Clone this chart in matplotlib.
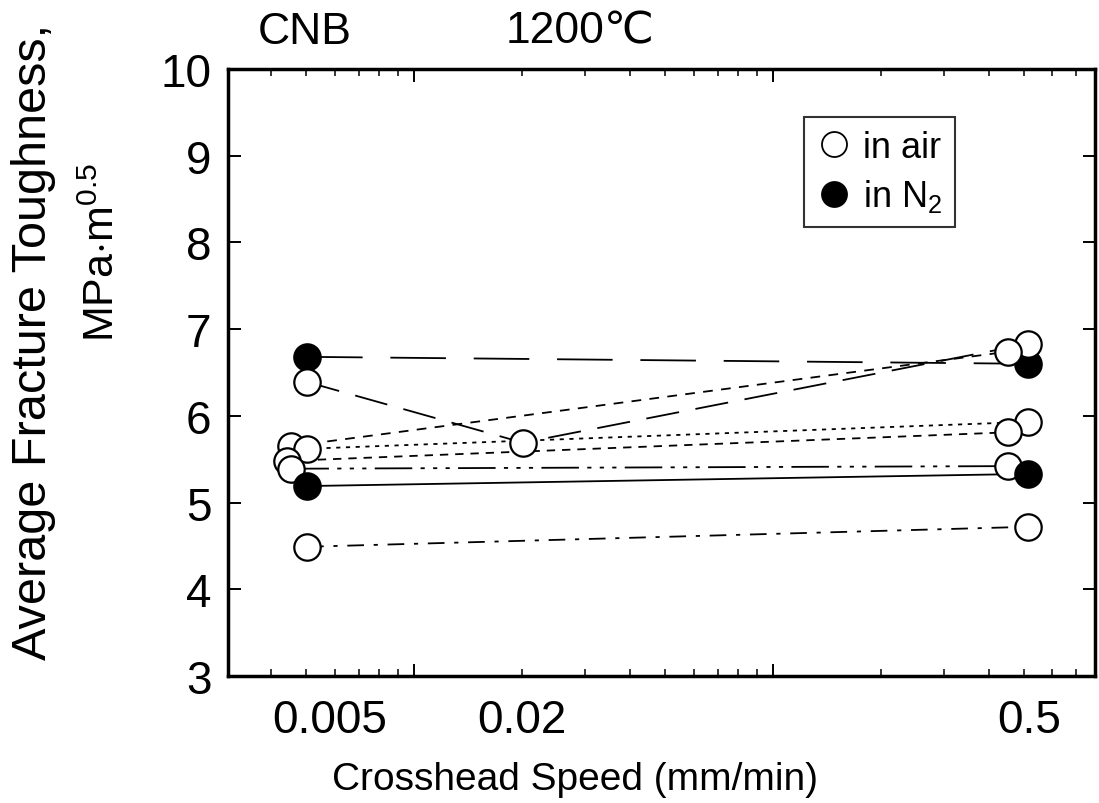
import matplotlib
matplotlib.use('Agg')
import matplotlib.pyplot as plt
from matplotlib.lines import Line2D
from matplotlib.ticker import LogLocator, NullFormatter, NullLocator

plt.rcParams['font.family'] = ['Liberation Sans', 'DejaVu Sans']
plt.rcParams['mathtext.fontset'] = 'custom'
plt.rcParams['mathtext.rm'] = 'Liberation Sans'
plt.rcParams['mathtext.it'] = 'Liberation Sans'
plt.rcParams['lines.scale_dashes'] = False

# crosshead speed (mm/min) vs average fracture toughness
# points at ~0.005 and ~0.5 are slightly staggered in the original
n2_hi_x = [0.00503, 0.513]
n2_hi_y = [6.68, 6.60]
n2_lo_x = [0.00503, 0.513]
n2_lo_y = [5.19, 5.33]

air_a_x = [0.00503, 0.0201, 0.513]
air_a_y = [6.39, 5.69, 6.83]
air_b_x = [0.00455, 0.452]
air_b_y = [5.65, 6.74]
air_c_x = [0.00503, 0.513]
air_c_y = [5.62, 5.93]
air_d_x = [0.00443, 0.452]
air_d_y = [5.48, 5.81]
air_e_x = [0.00455, 0.452]
air_e_y = [5.39, 5.42]
air_f_x = [0.00503, 0.513]
air_f_y = [4.49, 4.72]

speed_labels = ['0.005', '0.02', '0.5']
toughness_ticks = [3, 4, 5, 6, 7, 8, 9, 10]

# (x, y, filled, dash pattern in points; None = solid)
series = [
    (n2_hi_x, n2_hi_y, True, (40, 20)),
    (air_a_x, air_a_y, False, (24, 12)),
    (air_b_x, air_b_y, False, (7, 6)),
    (air_c_x, air_c_y, False, (3, 4)),
    (air_d_x, air_d_y, False, (6, 5)),
    (air_e_x, air_e_y, False, (27, 6, 3, 6, 3, 6, 3, 6)),
    (n2_lo_x, n2_lo_y, True, None),
    (air_f_x, air_f_y, False, (12, 7, 3, 7)),
]

fig = plt.figure(figsize=(10.99, 8.04), dpi=100)
ax = fig.add_axes([0.2075, 0.158, 0.789, 0.755])

for x, y, filled, dash in series:
    if dash is None:
        ax.plot(x, y, color='black', lw=1.3, zorder=2)
    else:
        ax.plot(x, y, color='black', lw=1.3, dashes=dash, zorder=2)
for x, y, filled, dash in series:
    ax.plot(x, y, 'o', ms=19, mec='black', mew=1.6,
            mfc='black' if filled else 'white', zorder=3)

ax.set_xscale('log')
ax.set_xlim(0.00303, 0.789)
ax.set_ylim(3, 10)
ax.set_yticks(toughness_ticks)
ax.yaxis.set_minor_locator(NullLocator())

ax.xaxis.set_major_locator(LogLocator(base=10))
ax.xaxis.set_major_formatter(NullFormatter())
ax.xaxis.set_minor_locator(LogLocator(base=10, subs=range(2, 10)))
ax.xaxis.set_minor_formatter(NullFormatter())

# speed labels drawn by hand; the 0.005 one sits a little right of its tick
label_shift = [17, 0, 4]
for lab, dx in zip(speed_labels, label_shift):
    ax.annotate(lab, xy=(float(lab), 0), xycoords=('data', 'axes fraction'),
                xytext=(dx, -16), textcoords='offset points',
                ha='center', va='top', fontsize=33)

ax.tick_params(which='both', direction='in', top=True, right=True)
ax.tick_params(which='major', length=9, width=1.4)
ax.tick_params(which='minor', length=5, width=1.1)
ax.tick_params(axis='y', pad=12, labelsize=33)
for sp in ax.spines.values():
    sp.set_linewidth(2.5)

ax.set_xlabel('Crosshead Speed (mm/min)', fontsize=28)
ax.xaxis.set_label_coords(0.40, -0.14)

fig.text(34 / 1099, 1 - 342 / 804, 'Average Fracture Toughness,',
         rotation=90, ha='center', va='center', fontsize=35)
fig.text(103 / 1099, 1 - 252 / 804, 'MPa$\\cdot$m$^{0.5}$',
         rotation=90, ha='center', va='center', fontsize=31)

fig.text(305 / 1099, 1 - 32 / 804, 'CNB', ha='center', va='center', fontsize=32)
fig.text(580 / 1099, 1 - 32 / 804, '1200℃', ha='center', va='center', fontsize=32)

handles = [
    Line2D([], [], ls='none', marker='o', ms=18, mec='black', mew=1.3, mfc='white'),
    Line2D([], [], ls='none', marker='o', ms=18, mec='black', mew=1.3, mfc='black'),
]
leg = ax.legend(handles, ['in air', 'in N$_2$'], loc='upper right',
                bbox_to_anchor=(0.8385, 0.921), fontsize=26, frameon=True,
                fancybox=False, edgecolor='black', handletextpad=0.3,
                borderpad=0.35, borderaxespad=0, handlelength=1.0,
                labelspacing=0.35)
leg.get_frame().set_linewidth(1.5)

fig.savefig('out.png', dpi=100)
